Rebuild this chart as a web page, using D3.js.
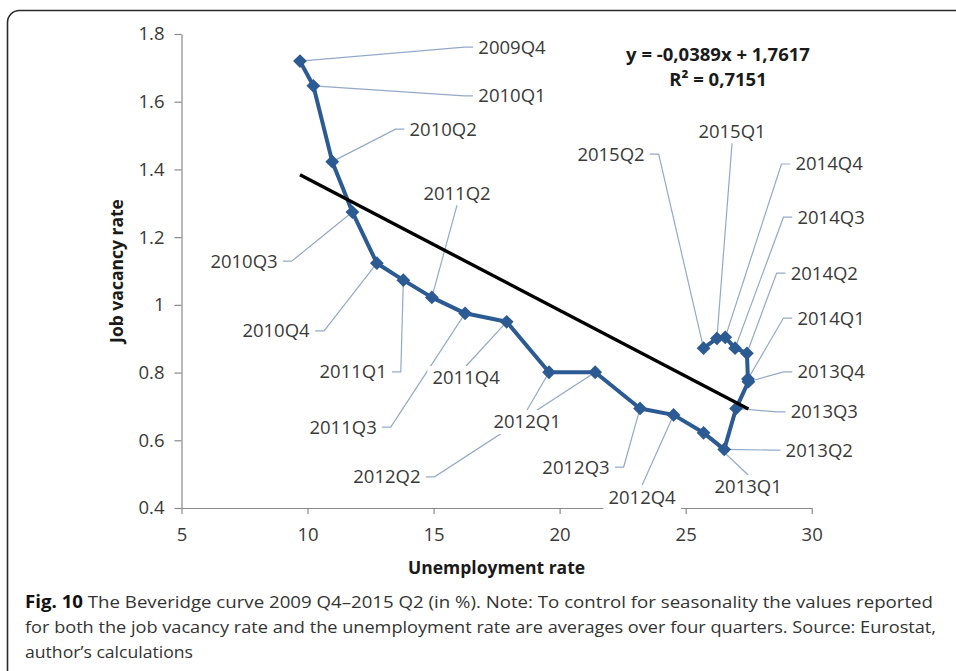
<!DOCTYPE html>
<html><head><meta charset="utf-8">
<script src="https://cdn.jsdelivr.net/npm/d3@7"></script>
<style>
html,body{margin:0;padding:0;background:#fff;}
svg{display:block;}
</style></head>
<body>
<svg id="chart" width="956" height="671"></svg>
<script>
// ---------- data ----------
const quarters = ["2009Q4","2010Q1","2010Q2","2010Q3","2010Q4","2011Q1","2011Q2","2011Q3","2011Q4",
  "2012Q1","2012Q2","2012Q3","2012Q4","2013Q1","2013Q2","2013Q3","2013Q4","2014Q1","2014Q2",
  "2014Q3","2014Q4","2015Q1","2015Q2"];
const unemployment = [9.70,10.23,10.98,11.78,12.75,13.80,14.93,16.25,17.90,
  19.58,21.41,23.19,24.52,25.71,26.53,27.00,27.49,27.47,27.43,
  26.96,26.57,26.24,25.71];
const vacancy = [1.720,1.647,1.423,1.274,1.123,1.073,1.022,0.975,0.950,
  0.801,0.801,0.694,0.675,0.622,0.573,0.694,0.773,0.781,0.857,
  0.872,0.904,0.901,0.872];
// label anchor (in data units) and which side of the label the leader attaches to
const labelX = [18.11,18.11,15.38,7.48,8.75,11.81,15.93,11.41,16.29,
  18.71,13.15,20.65,23.27,27.48,30.30,30.50,30.77,30.77,30.50,
  30.77,30.69,26.84,22.04];
const labelY = [1.761,1.617,1.519,1.129,0.923,0.802,1.330,0.639,0.784,
  0.654,0.492,0.521,0.432,0.462,0.571,0.684,0.802,0.961,1.094,
  1.259,1.416,1.513,1.445];
const labelSide = ["left","left","left","right","right","right","bottom","right","top",
  "top","right","right","top","top","left","left","left","left","left",
  "left","left","bottom","right"];
const xTicks = [5,10,15,20,25,30];
const xTickLabels = ["5","10","15","20","25","30"];
const yTicks = [0.4,0.6,0.8,1.0,1.2,1.4,1.6,1.8];
const yTickLabels = ["0.4","0.6","0.8","1","1.2","1.4","1.6","1.8"];
const trendSlope = -0.0389, trendIntercept = 1.7617;
const equationText = "y = -0,0389x + 1,7617";
const r2Text = "R² = 0,7151";
const xTitle = "Unemployment rate", yTitle = "Job vacancy rate";
const captionBold = "Fig. 10";
const captionLines = [
  " The Beveridge curve 2009 Q4–2015 Q2 (in %). Note: To control for seasonality the values reported",
  "for both the job vacancy rate and the unemployment rate are averages over four quarters. Source: Eurostat,",
  "author’s calculations"];

// ---------- drawing ----------
const svg = d3.select("#chart");
const x = d3.scaleLinear().domain([5,30]).range([181.5,811.7]);
const y = d3.scaleLinear().domain([0.4,1.8]).range([508,34]);
const FONT = "'Open Sans', 'Liberation Sans', sans-serif";
const axisColor = "#8a8a8a", textColor = "#3a3a3a";
const seriesColor = "#2c5a92", leaderColor = "#93a9c9";

// frame
svg.append("rect").attr("x",7.5).attr("y",10.5).attr("width",1000).attr("height",700)
  .attr("rx",12).attr("fill","none").attr("stroke","#2a2a2a").attr("stroke-width",1.6);

// axes
const yAxis = svg.append("g").attr("transform",`translate(${x.range()[0]},0)`)
  .call(d3.axisLeft(y).tickValues(yTicks).tickFormat((d,i)=>yTickLabels[i]).tickSize(7).tickPadding(10).tickSizeOuter(0));
const xAxis = svg.append("g").attr("transform",`translate(0,${y.range()[0]})`)
  .call(d3.axisBottom(x).tickValues(xTicks).tickFormat((d,i)=>xTickLabels[i]).tickSize(6).tickPadding(14).tickSizeOuter(0));
[yAxis,xAxis].forEach(g=>{
  g.select(".domain").attr("stroke",axisColor).attr("stroke-width",1.2);
  g.selectAll(".tick line").attr("stroke",axisColor).attr("stroke-width",1.2);
  g.selectAll(".tick text").attr("fill",textColor).style("font-family",FONT).style("font-size","18.5px");
});

// axis titles
svg.append("text").attr("x",(x.range()[0]+x.range()[1])/2).attr("y",574)
  .attr("text-anchor","middle").style("font-family",FONT).style("font-weight","bold")
  .style("font-size","17.5px").attr("fill","#1a1a1a").text(xTitle);
svg.append("text").attr("transform",`translate(123,${(y.range()[0]+y.range()[1])/2}) rotate(-90)`)
  .attr("text-anchor","middle").style("font-family",FONT).style("font-weight","bold")
  .style("font-size","17.5px").attr("fill","#1a1a1a").text(yTitle);

const pts = quarters.map((q,i)=>({q, u:unemployment[i], v:vacancy[i],
  lx:labelX[i], ly:labelY[i], side:labelSide[i]}));

// labels: measure first
const labelG = svg.append("g");
const lbls = labelG.selectAll("g").data(pts).join("g");
const boxes = lbls.append("rect").attr("fill","#fff");
const texts = lbls.append("text").attr("x",d=>x(d.lx)).attr("y",d=>y(d.ly)).attr("dy","0.35em")
  .attr("text-anchor","middle").style("font-family",FONT).style("font-size","18.5px")
  .attr("fill",textColor).text(d=>d.q);
texts.each(function(d){
  const b = this.getBBox();
  d.bx0=b.x-5; d.bx1=b.x+b.width+5; d.by0=y(d.ly)-12; d.by1=y(d.ly)+12;
});
boxes.attr("x",d=>d.bx0).attr("y",d=>d.by0).attr("width",d=>d.bx1-d.bx0).attr("height",d=>d.by1-d.by0);

// leader lines (below labels)
const leaderG = svg.insert("g", () => labelG.node());
leaderG.selectAll("path").data(pts).join("path")
  .attr("fill","none").attr("stroke",leaderColor).attr("stroke-width",1.2)
  .attr("d",d=>{
    const px=x(d.u), py=y(d.v), cy=y(d.ly), cx=x(d.lx);
    if(d.side==="left") return `M${d.bx0},${cy}H${d.bx0-9}L${px},${py}`;
    if(d.side==="right") return `M${d.bx1},${cy}H${d.bx1+9}L${px},${py}`;
    if(d.side==="top") return `M${cx},${d.by0}L${px},${py}`;
    return `M${cx},${d.by1}L${px},${py}`;
  });

// series line & markers
const line = d3.line().x(d=>x(d.u)).y(d=>y(d.v));
svg.append("path").datum(pts).attr("d",line).attr("fill","none")
  .attr("stroke",seriesColor).attr("stroke-width",4).attr("stroke-linejoin","round");
svg.append("g").selectAll("path").data(pts).join("path")
  .attr("transform",d=>`translate(${x(d.u)},${y(d.v)}) rotate(45)`)
  .attr("d",d3.symbol(d3.symbolSquare,95)).attr("fill",seriesColor);

// trendline
const ux = d3.extent(unemployment);
svg.append("line").attr("x1",x(ux[0])).attr("y1",y(trendIntercept+trendSlope*ux[0]))
  .attr("x2",x(ux[1])).attr("y2",y(trendIntercept+trendSlope*ux[1]))
  .attr("stroke","#000").attr("stroke-width",3.4);

// equation
svg.append("text").attr("x",718).attr("y",61).attr("text-anchor","middle")
  .style("font-family",FONT).style("font-weight","bold").style("font-size","18.5px").attr("fill","#1a1a1a").text(equationText);
svg.append("text").attr("x",718).attr("y",86).attr("text-anchor","middle")
  .style("font-family",FONT).style("font-weight","bold").style("font-size","18.5px").attr("fill","#1a1a1a").text(r2Text);

// caption
const capLens = [908, 911, 168];
const capBase = [608, 633, 658];
captionLines.forEach((t,i)=>{
  const tx = svg.append("text").attr("x",25).attr("y",capBase[i])
    .attr("textLength",capLens[i]).attr("lengthAdjust","spacingAndGlyphs")
    .style("font-family",FONT).style("font-size","17px").attr("fill","#333");
  if(i===0) tx.append("tspan").style("font-weight","bold").attr("fill","#111").text(captionBold);
  tx.append("tspan").text(t);
});
</script>
</body></html>
